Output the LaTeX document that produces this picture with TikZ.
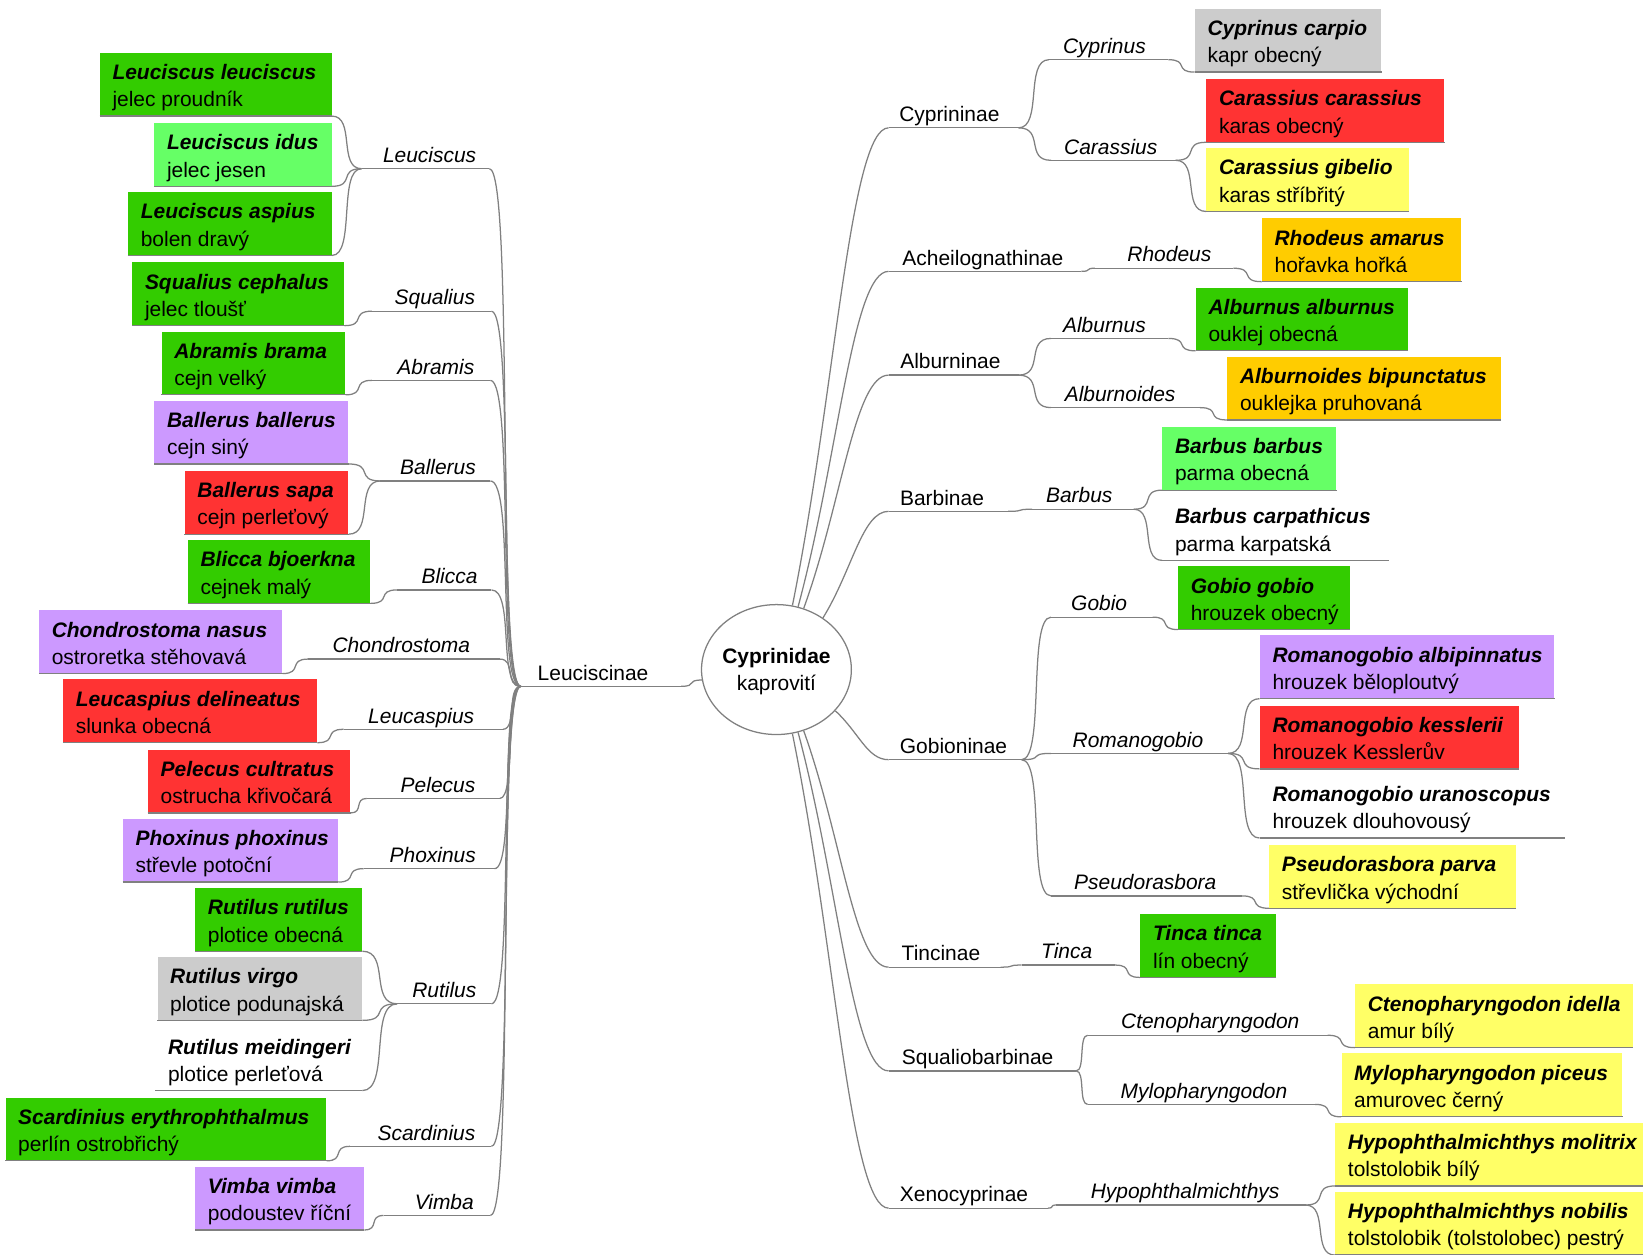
\documentclass[tikz,border=0pt]{standalone}
\usepackage{fontspec}
\setmainfont{Liberation Sans}
\usetikzlibrary{calc,shapes.geometric}
\definecolor{cgreen}{HTML}{33CC00}
\definecolor{clgreen}{HTML}{66FF66}
\definecolor{cred}{HTML}{FF3333}
\definecolor{cyellow}{HTML}{FFFF66}
\definecolor{corange}{HTML}{FFCC00}
\definecolor{cpurple}{HTML}{CC99FF}
\definecolor{cgray}{HTML}{CCCCCC}
\definecolor{lnc}{HTML}{808080}
\tikzset{
  lnstyle/.style={draw=lnc, line width=0.6pt},
  leafbox/.style={rectangle, inner sep=0pt, minimum height=30pt, draw=none},
  spname/.style={inner sep=0pt, font=\fontsize{10}{12}\selectfont\bfseries\itshape},
  cmname/.style={inner sep=0pt, font=\fontsize{10}{12}\selectfont},
  genname/.style={inner sep=0pt, font=\fontsize{10}{12}\selectfont\itshape},
  subname/.style={inner sep=0pt, font=\fontsize{10}{12}\selectfont},
}
\newcommand\leaf[7]{%
  \node[leafbox, fill=#5, minimum width={(#4-#2)*0.5pt}, anchor=north west] (#1) at (#2,#3) {};
  \node[spname, anchor=base west] (#1s) at ($(#1.north west)+(12,26)$) {#6};
  \node[cmname, anchor=base west] (#1c) at ($(#1.north west)+(12,52)$) {#7};
  \draw[lnstyle] (#1.south west) -- (#1.south east);
}
\newcommand\lab[7]{%
  \coordinate (#1l) at (#2,#4);
  \coordinate (#1r) at (#3,#4);
  \draw[lnstyle] (#1l) -- (#1r);
  \node[#5, anchor=base] (#1) at (#6,{#4-6}) {#7};
}
\newcommand\conn[2]{\draw[lnstyle] (#1) .. controls ($(#1)!0.8!(#2|-#1)$) and ($(#2)!0.8!(#1|-#2)$) .. (#2);}
\newcommand\econn[2]{\draw[lnstyle] (#1) .. controls ($(#1)!0.45!(#2)$) and ($(#2)!0.4!(#1|-#2)$) .. (#2);}
\begin{document}
\begin{tikzpicture}[x=0.5pt,y=-0.5pt]
\fill[white] (0,0) rectangle (1568,1197);
\useasboundingbox (0,0) rectangle (1568,1197);

% centre
\node[ellipse, draw=lnc, line width=0.6pt, fill=white, minimum width=71.5pt, minimum height=62pt, inner sep=0pt] (c) at (741,639) {};
\node[inner sep=0pt, anchor=base, font=\fontsize{10}{12}\selectfont\bfseries] (cn) at (741,633) {Cyprinidae};
\node[inner sep=0pt, anchor=base, font=\fontsize{10}{12}\selectfont] (ck) at (741,659) {kaprovití};

% ---------- left side ----------
\leaf{Lle}{95}{50}{316}{cgreen}{Leuciscus leuciscus}{jelec proudník}
\leaf{Lid}{147}{117}{316}{clgreen}{Leuciscus idus}{jelec jesen}
\leaf{Las}{122}{183}{316}{cgreen}{Leuciscus aspius}{bolen dravý}
\leaf{Sce}{126}{250}{328}{cgreen}{Squalius cephalus}{jelec tloušť}
\leaf{Abr}{154}{316}{329}{cgreen}{Abramis brama}{cejn velký}
\leaf{Bba}{147}{382}{332}{cpurple}{Ballerus ballerus}{cejn siný}
\leaf{Bsa}{176}{449}{332}{cred}{Ballerus sapa}{cejn perleťový}
\leaf{Bbj}{179}{515}{353}{cgreen}{Blicca bjoerkna}{cejnek malý}
\leaf{Cna}{37}{582}{269}{cpurple}{Chondrostoma nasus}{ostroretka stěhovavá}
\leaf{Lde}{60}{648}{302}{cred}{Leucaspius delineatus}{slunka obecná}
\leaf{Pcu}{141}{715}{334}{cred}{Pelecus cultratus}{ostrucha křivočará}
\leaf{Pph}{117}{781}{322}{cpurple}{Phoxinus phoxinus}{střevle potoční}
\leaf{Rru}{186}{847}{345}{cgreen}{Rutilus rutilus}{plotice obecná}
\leaf{Rvi}{150}{913}{345}{cgray}{Rutilus virgo}{plotice podunajská}
\leaf{Rme}{148}{980}{345}{none}{Rutilus meidingeri}{plotice perleťová}
\leaf{Ser}{5}{1047}{311}{cgreen}{Scardinius erythrophthalmus}{perlín ostrobřichý}
\leaf{Vvi}{186}{1113}{347}{cpurple}{Vimba vimba}{podoustev říční}

\lab{gLeu}{345}{467}{161}{genname}{410}{Leuciscus}
\lab{gSqu}{355}{469}{297}{genname}{415}{Squalius}
\lab{gAbr}{355}{468}{363}{genname}{416}{Abramis}
\lab{gBal}{363}{468}{459}{genname}{418}{Ballerus}
\lab{gBli}{379}{469}{563}{genname}{429}{Blicca}
\lab{gCho}{294}{477}{629}{genname}{383}{Chondrostoma}
\lab{gLca}{328}{480}{696}{genname}{402}{Leucaspius}
\lab{gPel}{350}{477}{762}{genname}{418}{Pelecus}
\lab{gPho}{347}{472}{829}{genname}{413}{Phoxinus}
\lab{gRut}{379}{469}{958}{genname}{424}{Rutilus}
\lab{gSca}{334}{469}{1094}{genname}{407}{Scardinius}
\lab{gVim}{366}{468}{1160}{genname}{424}{Vimba}

\lab{sLeu}{497}{650}{655}{subname}{566}{Leuciscinae}
\conn{sLeur}{c.188}

\foreach \g in {gLeu,gSqu,gAbr,gBal,gBli,gCho,gLca,gPel,gPho,gRut,gSca,gVim}{\conn{sLeul}{\g r}}

\conn{gLeul}{Lle.south east}
\conn{gLeul}{Lid.south east}
\conn{gLeul}{Las.south east}
\conn{gSqul}{Sce.south east}
\conn{gAbrl}{Abr.south east}
\conn{gBall}{Bba.south east}
\conn{gBall}{Bsa.south east}
\conn{gBlil}{Bbj.south east}
\conn{gChol}{Cna.south east}
\conn{gLcal}{Lde.south east}
\conn{gPell}{Pcu.south east}
\conn{gPhol}{Pph.south east}
\conn{gRutl}{Rru.south east}
\conn{gRutl}{Rvi.south east}
\conn{gRutl}{Rme.south east}
\conn{gScal}{Ser.south east}
\conn{gViml}{Vvi.south east}

% ---------- right side ----------
\lab{sCyp}{848}{972}{122}{subname}{906}{Cyprininae}
\lab{sAch}{848}{1032}{259}{subname}{938}{Acheilognathinae}
\lab{sAlb}{848}{972}{358}{subname}{907}{Alburninae}
\lab{sBar}{848}{962}{488}{subname}{899}{Barbinae}
\lab{sGob}{848}{975}{725}{subname}{910}{Gobioninae}
\lab{sTin}{848}{955}{923}{subname}{898}{Tincinae}
\lab{sSqu}{848}{1027}{1022}{subname}{933}{Squaliobarbinae}
\lab{sXen}{848}{1000}{1153}{subname}{920}{Xenocyprinae}

\econn{c.76}{sCypl}
\econn{c.71}{sAchl}
\econn{c.66}{sAlbl}
\econn{c.48}{sBarl}
\econn{c.325}{sGobl}
\econn{c.294}{sTinl}
\econn{c.289}{sSqul}
\econn{c.284}{sXenl}

\lab{gCyp}{1001}{1115}{57}{genname}{1054}{Cyprinus}
\lab{gCar}{1003}{1122}{153}{genname}{1060}{Carassius}
\lab{gRho}{1045}{1177}{256}{genname}{1116}{Rhodeus}
\lab{gAlb}{1003}{1115}{323}{genname}{1054}{Alburnus}
\lab{gAld}{1003}{1145}{389}{genname}{1069}{Alburnoides}
\lab{gBar}{985}{1082}{486}{genname}{1030}{Barbus}
\lab{gGob}{1003}{1100}{589}{genname}{1049}{Gobio}
\lab{gRom}{1003}{1172}{719}{genname}{1086}{Romanogobio}
\lab{gPse}{1003}{1185}{855}{genname}{1093}{Pseudorasbora}
\lab{gTin}{975}{1064}{921}{genname}{1018}{Tinca}
\lab{gCte}{1038}{1267}{988}{genname}{1155}{Ctenopharyngodon}
\lab{gMyl}{1038}{1255}{1054}{genname}{1149}{Mylopharyngodon}
\lab{gHyp}{1008}{1246}{1150}{genname}{1131}{Hypophthalmichthys}

\conn{sCypr}{gCypl}
\conn{sCypr}{gCarl}
\conn{sAchr}{gRhol}
\conn{sAlbr}{gAlbl}
\conn{sAlbr}{gAldl}
\conn{sBarr}{gBarl}
\conn{sGobr}{gGobl}
\conn{sGobr}{gRoml}
\conn{sGobr}{gPsel}
\conn{sTinr}{gTinl}
\conn{sSqur}{gCtel}
\conn{sSqur}{gMyll}
\conn{sXenr}{gHypl}

\leaf{Cca}{1140}{8}{1318}{cgray}{Cyprinus carpio}{kapr obecný}
\leaf{Ccc}{1151}{75}{1378}{cred}{Carassius carassius}{karas obecný}
\leaf{Cgi}{1151}{141}{1344}{cyellow}{Carassius gibelio}{karas stříbřitý}
\leaf{Ram}{1204}{208}{1394}{corange}{Rhodeus amarus}{hořavka hořká}
\leaf{Aal}{1141}{274}{1343}{cgreen}{Alburnus alburnus}{ouklej obecná}
\leaf{Abi}{1171}{340}{1432}{corange}{Alburnoides bipunctatus}{ouklejka pruhovaná}
\leaf{Bbb}{1109}{407}{1275}{clgreen}{Barbus barbus}{parma obecná}
\leaf{Bca}{1109}{474}{1325}{none}{Barbus carpathicus}{parma karpatská}
\leaf{Ggo}{1124}{540}{1288}{cgreen}{Gobio gobio}{hrouzek obecný}
\leaf{Ral}{1202}{606}{1483}{cpurple}{Romanogobio albipinnatus}{hrouzek běloploutvý}
\leaf{Rke}{1202}{673}{1449}{cred}{Romanogobio kesslerii}{hrouzek Kesslerův}
\leaf{Rur}{1202}{739}{1493}{none}{Romanogobio uranoscopus}{hrouzek dlouhovousý}
\leaf{Ppa}{1211}{806}{1446}{cyellow}{Pseudorasbora parva}{střevlička východní}
\leaf{Tti}{1088}{872}{1217}{cgreen}{Tinca tinca}{lín obecný}
\leaf{Cid}{1293}{939}{1558}{cyellow}{Ctenopharyngodon idella}{amur bílý}
\leaf{Mpi}{1280}{1005}{1548}{cyellow}{Mylopharyngodon piceus}{amurovec černý}
\leaf{Hmo}{1274}{1071}{1568}{cyellow}{Hypophthalmichthys molitrix}{tolstolobik bílý}
\leaf{Hno}{1274}{1137}{1568}{cyellow}{Hypophthalmichthys nobilis}{tolstolobik (tolstolobec) pestrý}

\conn{gCypr}{Cca.south west}
\conn{gCarr}{Ccc.south west}
\conn{gCarr}{Cgi.south west}
\conn{gRhor}{Ram.south west}
\conn{gAlbr}{Aal.south west}
\conn{gAldr}{Abi.south west}
\conn{gBarr}{Bbb.south west}
\conn{gBarr}{Bca.south west}
\conn{gGobr}{Ggo.south west}
\conn{gRomr}{Ral.south west}
\conn{gRomr}{Rke.south west}
\conn{gRomr}{Rur.south west}
\conn{gPser}{Ppa.south west}
\conn{gTinr}{Tti.south west}
\conn{gCter}{Cid.south west}
\conn{gMylr}{Mpi.south west}
\conn{gHypr}{Hmo.south west}
\conn{gHypr}{Hno.south west}
\end{tikzpicture}
\end{document}
